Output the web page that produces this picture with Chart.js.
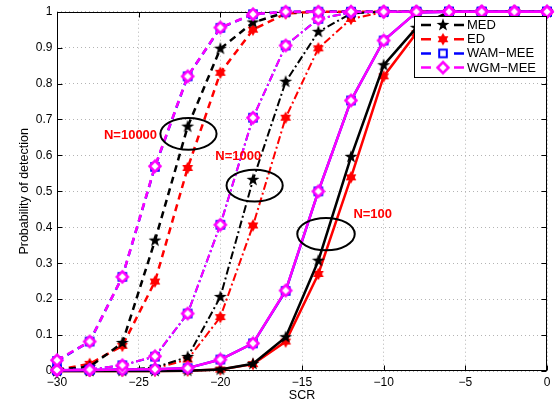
<!DOCTYPE html>
<html>
<head>
<meta charset="utf-8">
<script src="https://cdn.jsdelivr.net/npm/chart.js@4.4.0/dist/chart.umd.min.js"></script>
<style>
    html, body { margin: 0; padding: 0; background: #fff; }
</style>
</head>
<body>
<canvas id="pdChart" width="559" height="405"></canvas>
<script>
// ===========================
// DATA
// ===========================

const scr = [-30, -28, -26, -24, -22, -20, -18, -16, -14, -12, -10, -8, -6, -4, -2, 0];
const methodNames = ['MED', 'ED', 'WAM\u2212MEE', 'WGM\u2212MEE'];

// N = 10000 (dashed)
const med10000 = [0.004, 0.012, 0.078, 0.363, 0.68, 0.897, 0.97, 0.998, 1, 1, 1, 1, 1, 1, 1, 1];
const ed10000  = [0.003, 0.02, 0.07, 0.249, 0.565, 0.83, 0.95, 0.995, 1, 1, 1, 1, 1, 1, 1, 1];
const wam10000 = [0.028, 0.082, 0.262, 0.568, 0.82, 0.955, 0.993, 1, 1, 1, 1, 1, 1, 1, 1, 1];
const wgm10000 = [0.03, 0.082, 0.262, 0.57, 0.82, 0.956, 0.993, 1, 1, 1, 1, 1, 1, 1, 1, 1];

// N = 1000 (dash-dot)
const med1000 = [0, 0.001, 0.003, 0.01, 0.039, 0.206, 0.532, 0.805, 0.944, 0.995, 1, 1, 1, 1, 1, 1];
const ed1000  = [0, 0.001, 0.002, 0.007, 0.032, 0.15, 0.405, 0.705, 0.898, 0.98, 0.999, 1, 1, 1, 1, 1];
const wam1000 = [0.003, 0.004, 0.016, 0.04, 0.16, 0.407, 0.705, 0.906, 0.98, 0.998, 1, 1, 1, 1, 1, 1];
const wgm1000 = [0.003, 0.004, 0.016, 0.041, 0.16, 0.407, 0.705, 0.906, 0.98, 0.998, 1, 1, 1, 1, 1, 1];

// N = 100 (solid)
const med100 = [0, 0, 0, 0, 0.001, 0.004, 0.02, 0.094, 0.307, 0.596, 0.851, 0.955, 1, 1, 1, 1];
const ed100  = [0, 0, 0, 0, 0.001, 0.004, 0.019, 0.082, 0.27, 0.539, 0.82, 0.94, 1, 1, 1, 1];
const wam100 = [0.002, 0.003, 0.004, 0.005, 0.008, 0.032, 0.077, 0.223, 0.5, 0.753, 0.92, 0.998, 1, 1, 1, 1];
const wgm100 = [0.002, 0.003, 0.004, 0.005, 0.008, 0.032, 0.077, 0.224, 0.5, 0.753, 0.92, 0.998, 1, 1, 1, 1];

// ===========================
// STYLES
// ===========================

const FONT = '"Liberation Sans", Arial, Helvetica, sans-serif';
const methodColors = ['#000000', '#ff0000', '#0000ff', '#ff00ff'];
const methodOrder = [2, 3, 1, 0]; // magenta drawn on top

const groups = [
    { series: [med10000, ed10000, wam10000, wgm10000], dash: [7, 5], width: 2.5 },
    { series: [med1000, ed1000, wam1000, wgm1000], dash: [8, 3, 2, 3], width: 2 },
    { series: [med100, ed100, wam100, wgm100], dash: [], width: 2.5 }
];

// ellipses + labels around each group (data coordinates)
const notes = [
    { text: 'N=10000', tx: -25.5, ty: 0.655, ex: -21.95, ey: 0.66, rx: 1.72, ry: 0.044 },
    { text: 'N=1000', tx: -18.9, ty: 0.596, ex: -17.9, ey: 0.516, rx: 1.72, ry: 0.044 },
    { text: 'N=100', tx: -10.67, ty: 0.435, ex: -13.53, ey: 0.381, rx: 1.76, ry: 0.045 }
];

/**
 * Build a small canvas used as point style
 */
function makeMarker(kind) {
    const c = document.createElement('canvas');
    c.width = 16;
    c.height = 16;
    const g = c.getContext('2d');
    g.translate(8, 8);
    if (kind === 'pentagram') {
        g.beginPath();
        for (let i = 0; i < 10; i++) {
            const r = i % 2 === 0 ? 6.8 : 2.7;
            const a = -Math.PI / 2 + i * Math.PI / 5;
            g.lineTo(r * Math.cos(a), r * Math.sin(a));
        }
        g.closePath();
        g.fillStyle = '#000';
        g.fill();
    } else if (kind === 'hexagram') {
        g.fillStyle = '#ff0000';
        [0, Math.PI].forEach(off => {
            g.beginPath();
            for (let i = 0; i < 3; i++) {
                const a = -Math.PI / 2 + off + i * 2 * Math.PI / 3;
                g.lineTo(6.2 * Math.cos(a), 6.2 * Math.sin(a));
            }
            g.closePath();
            g.fill();
        });
    } else if (kind === 'square') {
        g.strokeStyle = '#0000ff';
        g.lineWidth = 2;
        g.strokeRect(-3.8, -3.8, 7.6, 7.6);
    } else {
        g.beginPath();
        g.moveTo(0, -5.5);
        g.lineTo(5.5, 0);
        g.lineTo(0, 5.5);
        g.lineTo(-5.5, 0);
        g.closePath();
        g.fillStyle = '#fff';
        g.fill();
        g.strokeStyle = '#ff00ff';
        g.lineWidth = 2.5;
        g.stroke();
    }
    return c;
}

const markers = [makeMarker('pentagram'), makeMarker('hexagram'), makeMarker('square'), makeMarker('diamond')];

// ===========================
// PLUGINS
// ===========================

const framePlugin = {
    id: 'frame',
    beforeDatasetsDraw(chart) {
        const { ctx, chartArea: a, scales: { x, y } } = chart;
        const L = Math.round(a.left) + 0.5, R = Math.round(a.right) - 0.5;
        const T = Math.round(a.top) + 0.5, B = Math.round(a.bottom) - 0.5;
        ctx.save();
        ctx.strokeStyle = '#000';
        ctx.lineWidth = 1;
        ctx.strokeRect(L, T, R - L, B - T);
        ctx.beginPath();
        x.ticks.forEach(t => {
            const px = Math.round(x.getPixelForValue(t.value)) + 0.5;
            ctx.moveTo(px, B); ctx.lineTo(px, B - 5);
            ctx.moveTo(px, T); ctx.lineTo(px, T + 5);
        });
        y.ticks.forEach(t => {
            const py = Math.round(y.getPixelForValue(t.value)) + 0.5;
            ctx.moveTo(L, py); ctx.lineTo(L + 5, py);
            ctx.moveTo(R, py); ctx.lineTo(R - 5, py);
        });
        ctx.stroke();
        ctx.restore();
    }
};

const notesPlugin = {
    id: 'notes',
    afterDatasetsDraw(chart) {
        const { ctx, scales: { x, y } } = chart;
        ctx.save();
        notes.forEach(n => {
            const cx = x.getPixelForValue(n.ex), cy = y.getPixelForValue(n.ey);
            const rx = x.getPixelForValue(n.ex + n.rx) - cx;
            const ry = cy - y.getPixelForValue(n.ey + n.ry);
            ctx.beginPath();
            ctx.ellipse(cx, cy, rx, ry, 0, 0, Math.PI * 2);
            ctx.strokeStyle = '#000';
            ctx.lineWidth = 2;
            ctx.stroke();
            ctx.fillStyle = '#ff0000';
            ctx.font = 'bold 13px ' + FONT;
            ctx.textAlign = 'center';
            ctx.textBaseline = 'middle';
            ctx.fillText(n.text, x.getPixelForValue(n.tx), y.getPixelForValue(n.ty));
        });

        // legend box
        const bx = 414.5, by = 16.5, bw = 132, bh = 61;
        ctx.fillStyle = '#fff';
        ctx.fillRect(bx, by, bw, bh);
        ctx.strokeStyle = '#000';
        ctx.lineWidth = 1;
        ctx.strokeRect(bx, by, bw, bh);
        methodNames.forEach((name, i) => {
            const ry = 25 + i * 14.2;
            ctx.strokeStyle = methodColors[i];
            ctx.lineWidth = 2.5;
            ctx.beginPath();
            ctx.moveTo(421, ry); ctx.lineTo(431, ry);
            ctx.moveTo(454, ry); ctx.lineTo(464, ry);
            ctx.stroke();
            ctx.drawImage(markers[i], 443 - 8, ry - 8);
            ctx.fillStyle = '#000';
            ctx.font = '13px ' + FONT;
            ctx.textAlign = 'left';
            ctx.textBaseline = 'middle';
            ctx.fillText(name, 467, ry + 0.5);
        });
        ctx.restore();
    }
};

// ===========================
// CHART
// ===========================

const datasets = [];
groups.forEach((grp, gi) => {
    grp.series.forEach((vals, mi) => {
        datasets.push({
            label: methodNames[mi],
            data: scr.map((v, i) => ({ x: v, y: vals[i] })),
            borderColor: methodColors[mi],
            backgroundColor: methodColors[mi],
            borderWidth: grp.width,
            borderDash: grp.dash,
            pointStyle: markers[mi],
            pointRadius: 6,
            tension: 0,
            fill: false,
            clip: false,
            order: methodOrder[mi] * 3 + gi
        });
    });
});

new Chart(document.getElementById('pdChart'), {
    type: 'line',
    data: { datasets: datasets },
    plugins: [framePlugin, notesPlugin],
    options: {
        responsive: false,
        animation: false,
        devicePixelRatio: 1,
        layout: {
            padding: { top: 11, right: 12, left: 0, bottom: 0 }
        },
        plugins: {
            legend: { display: false },
            tooltip: { enabled: false }
        },
        scales: {
            x: {
                type: 'linear',
                min: -30,
                max: 0,
                ticks: {
                    stepSize: 5,
                    padding: 4,
                    maxRotation: 0,
                    color: '#000',
                    font: { family: FONT, size: 12 },
                    callback: v => (v < 0 ? '\u2212' + Math.abs(v) : String(v))
                },
                grid: { color: '#b4b4b4', lineWidth: 1, drawTicks: false },
                border: { display: false, dash: [1, 3] },
                title: {
                    display: true,
                    text: 'SCR',
                    color: '#000',
                    font: { family: FONT, size: 12.5 },
                    padding: { top: 0, bottom: 1.5 }
                },
                afterFit(scale) { scale.height = 34; }
            },
            y: {
                min: 0,
                max: 1,
                ticks: {
                    stepSize: 0.1,
                    padding: 4.5,
                    color: '#000',
                    font: { family: FONT, size: 12 },
                    callback: v => String(Math.round(v * 10) / 10)
                },
                grid: { color: '#b4b4b4', lineWidth: 1, drawTicks: false },
                border: { display: false, dash: [1, 3] },
                title: {
                    display: true,
                    text: 'Probability of detection',
                    color: '#000',
                    font: { family: FONT, size: 12.5 },
                    padding: { top: 17.5, bottom: 0 }
                },
                afterFit(scale) { scale.width = 57; }
            }
        }
    }
});
</script>
</body>
</html>
